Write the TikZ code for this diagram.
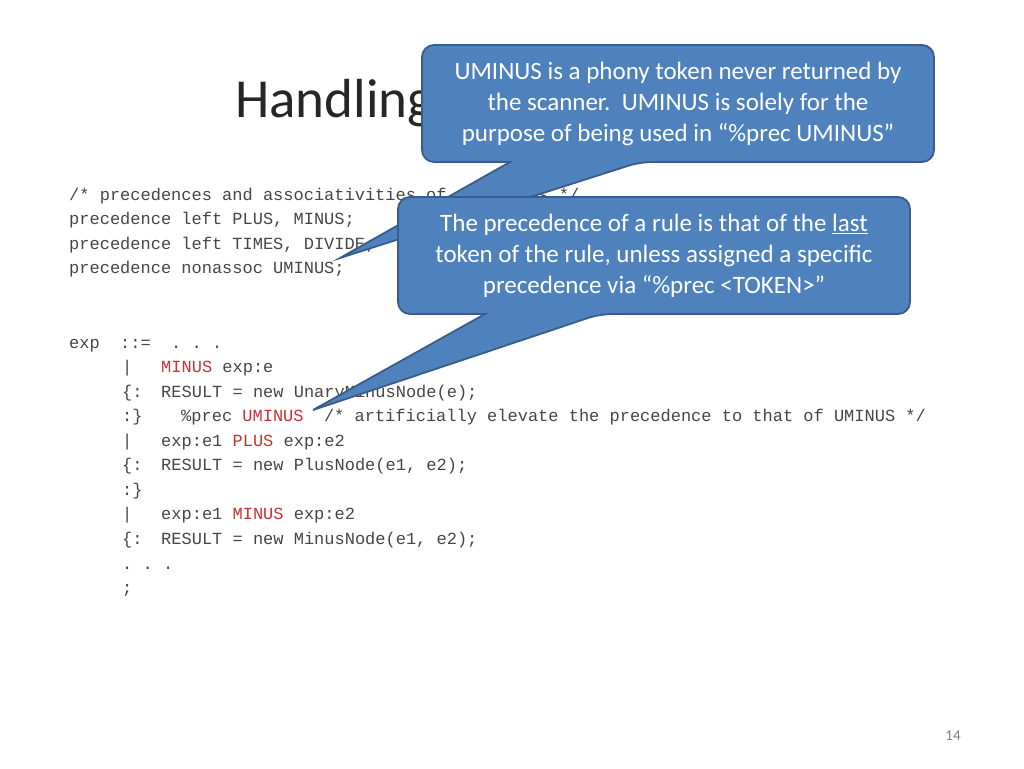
\documentclass[tikz,border=0pt]{standalone}
\usepackage{fontspec}
\setmainfont{Carlito}
\newfontfamily\codef{Liberation Mono}
\definecolor{codegray}{RGB}{70,70,70}
\definecolor{codered}{RGB}{200,50,50}
\definecolor{cfill}{RGB}{79,129,189}
\definecolor{cdraw}{RGB}{56,93,138}
\begin{document}
\begin{tikzpicture}[x=1pt,y=-1pt,
  code/.style={anchor=base west,inner sep=0,font=\codef\fontsize{17}{20}\selectfont,text=codegray},
  callout/.style={fill=cfill,draw=cdraw,line width=1.8pt,rounded corners=12pt},
  ctext/.style={text=white,align=center,font=\fontsize{25}{31}\selectfont}]
\useasboundingbox (0,0) rectangle (1024,768);
\fill[white] (0,0) rectangle (1024,768);
\node[anchor=base west,inner sep=0,font=\fontsize{55}{60}\selectfont,text=black!85] (title) at (235,117) {Handling Unary Minus};
\newcommand\R[1]{\textcolor{codered}{#1}}
\node[code] (l1) at (69,200) {/*~precedences~and~associativities~of~operators~*/};
\node[code] (l2) at (69,224) {precedence~left~PLUS,~MINUS;};
\node[code] (l3) at (69,249) {precedence~left~TIMES,~DIVIDE;};
\node[code] (l4) at (69,273) {precedence~nonassoc~UMINUS;};
\node[code] (l5) at (69,348) {exp~~::=~~.~.~.};
\node[code] (l6a) at (122,372) {|};
\node[code] (l6b) at (161,372) {\R{MINUS}~exp:e};
\node[code] (l7a) at (122,397) {\{:};
\node[code] (l7b) at (161,397) {RESULT~=~new~UnaryMinusNode(e);};
\node[code] (l8a) at (122,421) {:\}};
\node[code] (l8b) at (181,421) {\%prec~\R{UMINUS}~~/*~artificially~elevate~the~precedence~to~that~of~UMINUS~*/};
\node[code] (l9a) at (122,446) {|};
\node[code] (l9b) at (161,446) {exp:e1~\R{PLUS}~exp:e2};
\node[code] (l10a) at (122,470) {\{:};
\node[code] (l10b) at (161,470) {RESULT~=~new~PlusNode(e1,~e2);};
\node[code] (l11) at (122,495) {:\}};
\node[code] (l12a) at (122,519) {|};
\node[code] (l12b) at (161,519) {exp:e1~\R{MINUS}~exp:e2};
\node[code] (l13a) at (122,544) {\{:};
\node[code] (l13b) at (161,544) {RESULT~=~new~MinusNode(e1,~e2);};
\node[code] (l14) at (122,569) {.~.~.};
\node[code] (l15) at (122,593) {;};
% callout 1
\coordinate (t1) at (340,258);
\draw[callout] (422,45) -- (934,45) -- (934,162) -- (640,162) [sharp corners] -- (t1) -- (510,162) [rounded corners=12pt] -- (422,162) -- cycle;
\node[ctext] (c1) at (678,104) {UMINUS is a phony token never returned by\\the scanner.\ \ UMINUS is solely for the\\purpose of being used in “\%prec UMINUS”};
% callout 2
\coordinate (t2) at (313,410);
\draw[callout] (398,197) -- (910,197) -- (910,314) -- (600,314) [sharp corners] -- (t2) -- (485,314) [rounded corners=12pt] -- (398,314) -- cycle;
\node[ctext] (c2) at (654,256) {The precedence of a rule is that of the \underline{last}\\token of the rule, unless assigned a specific\\precedence via “\%prec <TOKEN>”};
\node[anchor=base,inner sep=0,font=\fontsize{15}{18}\selectfont,text=gray] (pg) at (953,740) {14};
\end{tikzpicture}
\end{document}
